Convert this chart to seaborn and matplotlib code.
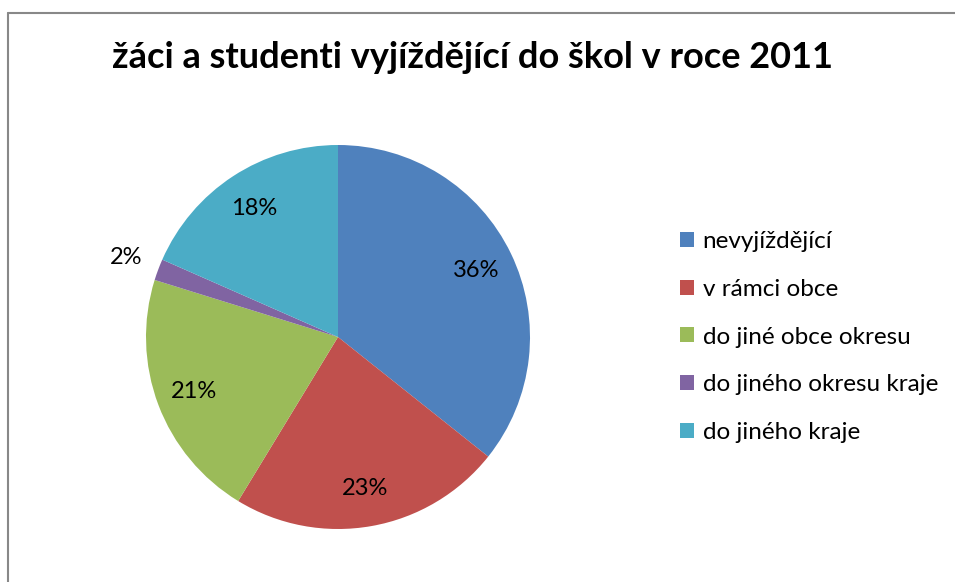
import matplotlib
matplotlib.use("Agg")
import matplotlib.pyplot as plt
import seaborn as sns
from matplotlib.lines import Line2D
from matplotlib.patches import Patch

categories = ["nevyjíždějící", "v rámci obce", "do jiné obce okresu",
              "do jiného okresu kraje", "do jiného kraje"]
values = [35.7, 23.0, 21.1, 1.8, 18.4]
colors = ["#4F81BD", "#C0504D", "#9BBB59", "#8064A2", "#4BACC6"]
title = "žáci a studenti vyjíždějící do škol v roce 2011"

sns.set_theme(style="white")
plt.rcParams["font.family"] = ["Lato", "DejaVu Sans"]
plt.rcParams["text.color"] = "black"

W, H = 955, 582
fig = plt.figure(figsize=(W / 100, H / 100), dpi=100)
fig.patch.set_facecolor("white")

cx, cy, r = 338, 337, 192
ax = fig.add_axes([(cx - r) / W, (H - cy - r) / H, 2 * r / W, 2 * r / H])
palette = sns.color_palette(colors)
wedges, texts, autotexts = ax.pie(values, colors=palette, startangle=90,
                                  counterclock=False, autopct="%.0f%%",
                                  pctdistance=0.8,
                                  wedgeprops=dict(linewidth=0),
                                  textprops=dict(fontsize=17, color="black"))
ax.set_xlim(-1, 1)
ax.set_ylim(-1, 1)
ax.set_aspect("equal")
# small slice label sits outside the pie
x, y = autotexts[3].get_position()
autotexts[3].set_position((x * 1.47, y * 1.47))

fig.text(472 / W, 1 - 58 / H, title, ha="center", va="center",
         fontsize=26, fontweight="bold", color="black")

handles = [Patch(facecolor=c, linewidth=0) for c in palette]
fig.legend(handles, categories, loc="center left",
           bbox_to_anchor=(680 / W, 1 - 337 / H), frameon=False,
           borderaxespad=0, borderpad=0,
           fontsize=17.5, handlelength=0.58, handleheight=0.58,
           handletextpad=0.35, labelspacing=1.1)

fig.add_artist(Line2D([8 / W, 1], [1 - 13 / H, 1 - 13 / H],
                      transform=fig.transFigure, color="#888888", lw=1.5))
fig.add_artist(Line2D([8 / W, 8 / W], [0, 1 - 13 / H],
                      transform=fig.transFigure, color="#888888", lw=1.5))

fig.savefig("out.png", dpi=100)
